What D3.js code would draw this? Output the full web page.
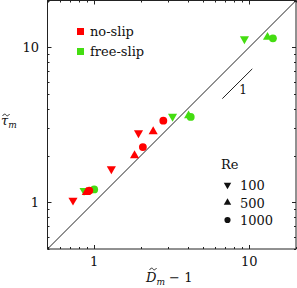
<!DOCTYPE html>
<html>
<head>
<meta charset="utf-8">
<script src="https://cdn.jsdelivr.net/npm/d3@7"></script>
<style>
  body { margin: 0; background: #fff; }
  svg { display: block; }
</style>
</head>
<body>
<svg width="297" height="288" font-family="DejaVu Serif" fill="#111"></svg>
<script>
// no-slip runs (red)
const noSlipX = [0.73, 0.89, 0.93, 1.29, 1.82, 1.93, 2.06, 2.40, 2.79];
const noSlipY = [1.03, 1.16, 1.19, 1.64, 2.00, 2.80, 2.27, 2.86, 3.36];
const noSlipRe = [100, 500, 1000, 100, 500, 100, 1000, 500, 1000];

// free-slip runs (green)
const freeSlipX = [0.86, 1.00, 3.20, 4.06, 4.19, 9.3, 13.1, 14.2];
const freeSlipY = [1.19, 1.21, 3.58, 3.62, 3.55, 11.3, 11.6, 11.4];
const freeSlipRe = [100, 1000, 100, 500, 1000, 100, 500, 1000];

const reValues = [100, 500, 1000];
const seriesNames = ['no-slip', 'free-slip'];
const seriesColors = ['#ff0000', '#44dd11'];

const svg = d3.select('svg');
const mLeft = 47.5, mRight = 296, mTop = 0.5, mBottom = 249;
const fs = 13;

let x = d3.scaleLog().domain([0.5, 20]).range([mLeft, mRight]);
let y = d3.scaleLog().domain([0.5, 20]).range([mBottom, mTop]);

// marker shapes per Re
const shapeFor = (re) => {
  if (re === 100) return { type: d3.symbolTriangle, size: 36, rot: 180 };
  if (re === 500) return { type: d3.symbolTriangle, size: 36, rot: 0 };
  return { type: d3.symbolCircle, size: 48, rot: 0 };
};

// diagonal y = x
svg.append('line')
  .attr('x1', x(0.5)).attr('y1', y(0.5))
  .attr('x2', x(20)).attr('y2', y(20))
  .attr('stroke', '#222').attr('stroke-width', 1);

// slope-1 indicator
svg.append('line')
  .attr('x1', x(6.7)).attr('y1', y(4.66))
  .attr('x2', x(10.45)).attr('y2', y(7.25))
  .attr('stroke', '#222').attr('stroke-width', 1);
svg.append('text')
  .attr('x', 243).attr('y', 94)
  .attr('text-anchor', 'middle')
  .attr('font-size', 12)
  .text('1');

// ticks on all four sides, pointing inwards
let majors = [1, 10];
let minors = [0.5, 0.6, 0.7, 0.8, 0.9, 2, 3, 4, 5, 6, 7, 8, 9, 20];
const tickG = svg.append('g').attr('stroke', '#222').attr('stroke-width', 1);
majors.concat(minors).forEach((v) => {
  let len = majors.includes(v) ? 4 : 2;
  let px = Math.round(x(v)) + 0.5, py = Math.round(y(v)) + 0.5;
  tickG.append('line').attr('x1', px).attr('x2', px).attr('y1', mBottom).attr('y2', mBottom - len);
  tickG.append('line').attr('x1', px).attr('x2', px).attr('y1', mTop).attr('y2', mTop + len);
  tickG.append('line').attr('y1', py).attr('y2', py).attr('x1', mLeft).attr('x2', mLeft + len);
  tickG.append('line').attr('y1', py).attr('y2', py).attr('x1', mRight).attr('x2', mRight - len);
});

// frame
svg.append('rect')
  .attr('x', mLeft).attr('y', mTop)
  .attr('width', mRight - mLeft).attr('height', mBottom - mTop)
  .attr('fill', 'none').attr('stroke', '#222').attr('stroke-width', 1);

// tick labels
majors.forEach((v) => {
  svg.append('text').attr('x', x(v)).attr('y', 266)
    .attr('text-anchor', 'middle').attr('font-size', fs).text(v);
  svg.append('text').attr('x', 39).attr('y', y(v) + 5)
    .attr('text-anchor', 'end').attr('font-size', fs).text(v);
});

// small tilde accent drawn as a path
function tilde(cx, cy) {
  svg.append('path')
    .attr('d', `M${cx - 3.5},${cy + 1} C${cx - 2},${cy - 1.5} ${cx - 0.5},${cy - 1} ${cx},${cy} S${cx + 2},${cy + 1.5} ${cx + 3.5},${cy - 1}`)
    .attr('fill', 'none').attr('stroke', '#111').attr('stroke-width', 0.9);
}

// axis labels
const xl = svg.append('text').attr('x', 146).attr('y', 282).attr('font-size', fs);
xl.append('tspan').attr('font-style', 'italic').text('D');
xl.append('tspan').attr('font-style', 'italic').attr('font-size', 9).attr('dy', 3).text('m');
xl.append('tspan').attr('dy', -3).text(' \u2212 1');
tilde(153, 269);

const yl = svg.append('text').attr('x', 1).attr('y', 125).attr('font-size', fs);
yl.append('tspan').attr('font-style', 'italic').text('\u03C4');
yl.append('tspan').attr('font-style', 'italic').attr('font-size', 9).attr('dy', 3).text('m');
tilde(6, 115);

// data points: free-slip first, no-slip on top
const series = [
  { xs: freeSlipX, ys: freeSlipY, res: freeSlipRe, color: seriesColors[1] },
  { xs: noSlipX, ys: noSlipY, res: noSlipRe, color: seriesColors[0] },
];
series.forEach((s) => {
  s.xs.forEach((xv, i) => {
    let sh = shapeFor(s.res[i]);
    svg.append('path')
      .attr('d', d3.symbol().type(sh.type).size(sh.size)())
      .attr('transform', `translate(${x(xv)},${y(s.ys[i])}) rotate(${sh.rot})`)
      .attr('fill', s.color);
  });
});

// colour legend
seriesNames.forEach((name, i) => {
  let ly = 31.5 + i * 20;
  svg.append('rect').attr('x', 77).attr('y', ly - 3.5).attr('width', 7).attr('height', 7)
    .attr('fill', seriesColors[i]);
  svg.append('text').attr('x', 90).attr('y', ly + 4.5).attr('font-size', fs).text(name);
});

// Re legend
svg.append('text').attr('x', 221).attr('y', 169).attr('font-size', fs).text('Re');
reValues.forEach((re, i) => {
  let ly = 185 + i * 17.5;
  let sh = shapeFor(re);
  svg.append('path')
    .attr('d', d3.symbol().type(sh.type).size(re === 1000 ? 30 : 24)())
    .attr('transform', `translate(227.5,${ly}) rotate(${sh.rot})`)
    .attr('fill', '#111');
  svg.append('text').attr('x', 240).attr('y', ly + 5).attr('font-size', fs).text(re);
});
</script>
</body>
</html>
